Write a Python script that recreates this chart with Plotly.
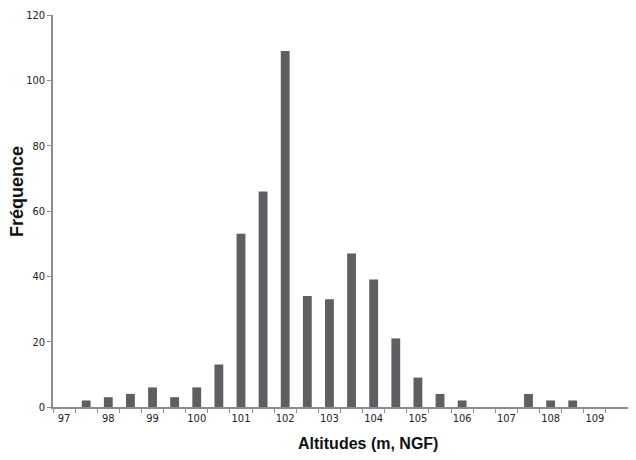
import plotly.graph_objects as go

altitudes = [97, 97.5, 98, 98.5, 99, 99.5, 100, 100.5, 101, 101.5, 102, 102.5, 103,
             103.5, 104, 104.5, 105, 105.5, 106, 106.5, 107, 107.5, 108, 108.5, 109, 109.5]
frequences = [0, 2, 3, 4, 6, 3, 6, 13, 53, 66, 109, 34, 33,
              47, 39, 21, 9, 4, 2, 0, 0, 4, 2, 2, 0, 0]
tick_vals = [97, 98, 99, 100, 101, 102, 103, 104, 105, 106, 107, 108, 109]
tick_text = [str(v) for v in tick_vals]

axis_col = "#8c8c90"
tick_font = dict(family="Liberation Sans Narrow, DejaVu Sans Condensed, sans-serif", size=11, color="#222")

# the page body adds an 8px margin, so the figure is kept a bit smaller
W, H = 620, 444
L, R, T, B = 45, 0, 7, 45
pw, ph = W - L - R, H - T - B

fig = go.Figure(go.Bar(x=altitudes, y=frequences, marker_color="#5f5f63",
                       marker_line_width=0, width=0.2))

fig.update_layout(
    width=W, height=H,
    margin=dict(l=L, r=R, t=T, b=B),
    plot_bgcolor="white", paper_bgcolor="white",
    showlegend=False,
)
fig.update_xaxes(
    range=[96.75, 109.75], tickvals=tick_vals, ticktext=tick_text, ticks="",
    tickfont=tick_font, showline=True, linecolor=axis_col, linewidth=1.5,
    showgrid=False, zeroline=False, automargin=False,
    minor=dict(tick0=96.75, dtick=0.5, ticks="outside", ticklen=4, tickcolor=axis_col, showgrid=False),
)
fig.update_yaxes(
    range=[0, 120], dtick=20, ticks="outside", ticklen=4, tickcolor=axis_col,
    tickfont=tick_font, showline=True, linecolor=axis_col, linewidth=1.5,
    showgrid=False, zeroline=False, automargin=False,
)

fig.add_annotation(text="<b>Altitudes (m, NGF)</b>", xref="paper", yref="paper",
                   x=(360 - L) / pw, y=-(435 - (H - B)) / ph, xanchor="center", yanchor="middle",
                   showarrow=False,
                   font=dict(family="Liberation Sans, Arial, sans-serif", size=16, color="#111"))
fig.add_annotation(text="<b>Fréquence</b>", xref="paper", yref="paper",
                   x=(9 - L) / pw, y=(H - B - 184) / ph, xanchor="center", yanchor="middle",
                   textangle=-90, showarrow=False,
                   font=dict(family="Liberation Sans, Arial, sans-serif", size=18, color="#111"))

fig.write_html("out.html")
